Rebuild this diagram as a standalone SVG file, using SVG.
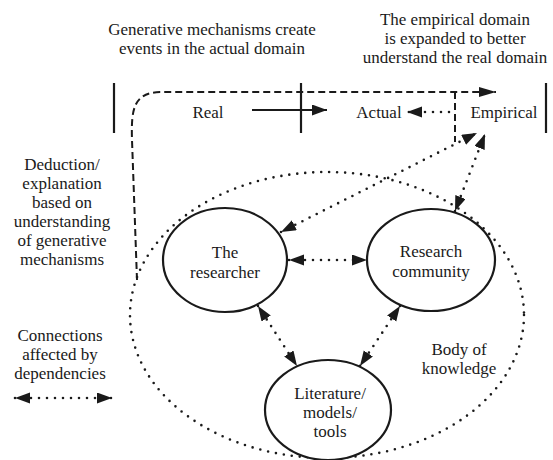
<svg xmlns="http://www.w3.org/2000/svg" width="553" height="460" viewBox="0 0 553 460">
<style>
text{font-size:17px;fill:#1a1a1a;text-anchor:middle}
.node{fill:#fff;stroke:#1a1a1a;stroke-width:2.2}
.bar{stroke:#1a1a1a;stroke-width:2.2;fill:none}
.dot{stroke:#1a1a1a;stroke-width:2.6;fill:none;stroke-dasharray:0 8;stroke-linecap:round}
.dash{stroke:#1a1a1a;stroke-width:2;fill:none;stroke-dasharray:7 4}
.solid{stroke:#1a1a1a;stroke-width:2;fill:none}
</style>
<defs>
<marker id="ah" markerUnits="userSpaceOnUse" markerWidth="16" markerHeight="12" refX="15" refY="5.5" orient="auto-start-reverse" viewBox="0 0 16 12">
<path d="M0,0 L15,5.5 L0,11 z" fill="#1a1a1a"/>
</marker>
<marker id="ahl" markerUnits="userSpaceOnUse" markerWidth="18" markerHeight="11" refX="17" refY="5" orient="auto" viewBox="0 0 18 11">
<path d="M0,0 L17,5 L0,10 z" fill="#1a1a1a"/>
</marker>
</defs>
<g font-family="'Liberation Serif', 'DejaVu Serif', serif">
<g id="titles">
<text x="212" y="35">Generative mechanisms create</text>
<text x="212" y="54">events in the actual domain</text>
<text x="455" y="25">The empirical domain</text>
<text x="455" y="44">is expanded to better</text>
<text x="455" y="63">understand the real domain</text>
</g>

<g id="domains">
<line class="bar" x1="114" y1="83" x2="114" y2="133"/>
<line class="bar" x1="301" y1="83" x2="301" y2="133"/>
<line class="bar" x1="546" y1="83" x2="546" y2="133"/>
<text x="208" y="118">Real</text>
<text x="379" y="118">Actual</text>
<text x="504" y="118">Empirical</text>
</g>

<g id="body-of-knowledge">
<ellipse cx="327" cy="315" rx="197" ry="143" class="dot"/>
<text x="459" y="355">Body of</text>
<text x="459" y="374">knowledge</text>
</g>

<g id="legend">
<text x="62" y="170">Deduction/</text>
<text x="62" y="189">explanation</text>
<text x="62" y="208">based on</text>
<text x="62" y="227">understanding</text>
<text x="62" y="246">of generative</text>
<text x="62" y="265">mechanisms</text>
<text x="60" y="341">Connections</text>
<text x="60" y="360">affected by</text>
<text x="60" y="379">dependencies</text>
</g>

<g id="connectors">
<line class="solid" x1="252" y1="110" x2="327" y2="110" marker-end="url(#ah)"/>
<line class="dot" x1="449" y1="112" x2="407" y2="112" marker-end="url(#ah)"/>
<path class="dash" d="M137 280 L132 140 C131 108 134 93 160 92 L496 92" marker-end="url(#ahl)"/>
<line class="dash" x1="455" y1="92" x2="455" y2="142"/>
<line class="dot" x1="289" y1="260" x2="367" y2="260" marker-start="url(#ah)" marker-end="url(#ah)"/>
<line class="dot" x1="258" y1="306" x2="297" y2="366" marker-start="url(#ah)" marker-end="url(#ah)"/>
<line class="dot" x1="400" y1="306" x2="360" y2="366" marker-start="url(#ah)" marker-end="url(#ah)"/>
<line class="dot" x1="281" y1="232" x2="477" y2="133" marker-start="url(#ah)" marker-end="url(#ah)"/>
<line class="dot" x1="455" y1="211" x2="485" y2="134" marker-start="url(#ah)" marker-end="url(#ah)"/>
<line class="dot" x1="15" y1="398" x2="112" y2="398" marker-start="url(#ah)" marker-end="url(#ah)"/>
</g>

<g id="node-researcher">
<ellipse class="node" cx="225" cy="260" rx="62" ry="52"/>
<text x="225" y="258">The</text>
<text x="225" y="278">researcher</text>
</g>
<g id="node-community">
<ellipse class="node" cx="431" cy="260" rx="64" ry="51"/>
<text x="431" y="257">Research</text>
<text x="431" y="277">community</text>
</g>
<g id="node-literature">
<ellipse class="node" cx="328" cy="410" rx="63" ry="50"/>
<text x="330" y="399">Literature/</text>
<text x="330" y="418">models/</text>
<text x="330" y="437">tools</text>
</g>
</g>
</svg>
